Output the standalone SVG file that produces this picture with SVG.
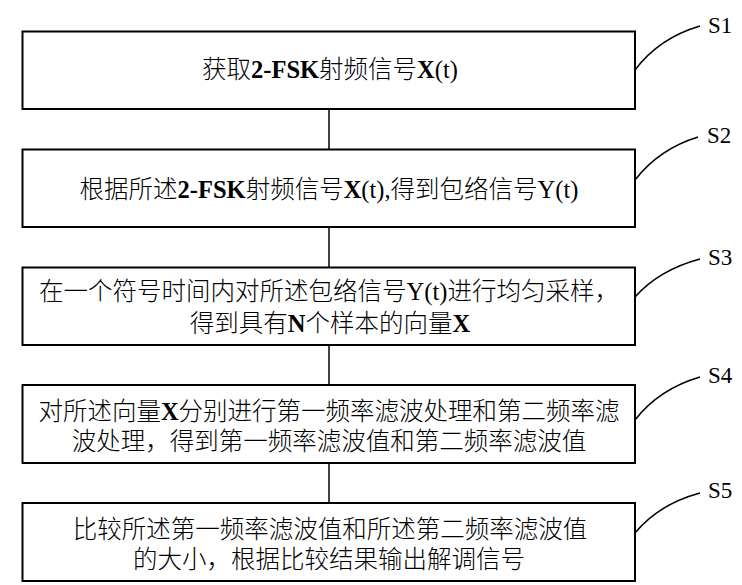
<svg xmlns="http://www.w3.org/2000/svg" width="742" height="585" viewBox="0 0 742 585">
<style>
  .box { fill: #ffffff; stroke: #000000; stroke-width: 2; }
  .conn { fill: none; stroke: #000000; stroke-width: 1.5; }
  .leader { fill: none; stroke: #000000; stroke-width: 1.5; }
  .t { font-family: "Liberation Serif", "Noto Sans CJK SC", serif; font-size: 24.5px; font-weight: 300; fill: #000000; text-anchor: middle; }
  .b { font-weight: bold; }
  .r { font-family: "Liberation Serif", serif; font-weight: normal; }
  .lbl { font-family: "Liberation Serif", serif; font-size: 23px; fill: #000000; }
</style>
<rect width="742" height="585" fill="#ffffff"/>
<g id="connectors">
  <line class="conn" x1="329" y1="109" x2="329" y2="149.5"/>
  <line class="conn" x1="329" y1="227" x2="329" y2="267.5"/>
  <line class="conn" x1="329" y1="345" x2="329" y2="385"/>
  <line class="conn" x1="329" y1="463" x2="329" y2="503"/>
  <path class="leader" d="M635,70 Q659,38 700,26"/>
  <path class="leader" d="M635,180 Q659,149 698,137"/>
  <path class="leader" d="M635,297 Q659,270 700,259"/>
  <path class="leader" d="M635,420 Q659,389 700,377"/>
  <path class="leader" d="M635,533 Q659,504 700,493"/>
</g>
<g id="S1">
  <rect class="box" x="22.5" y="31.5" width="612.5" height="77.5"/>
  <text class="t" x="330" y="78">获取<tspan class="b">2-FSK</tspan>射频信号<tspan class="b">X</tspan><tspan class="r">(t)</tspan></text>
  <text class="lbl" x="708" y="33">S1</text>
</g>
<g id="S2">
  <rect class="box" x="22.5" y="149.5" width="612.5" height="77.5"/>
  <text class="t" x="329" y="198">根据所述<tspan class="b">2-FSK</tspan>射频信号<tspan class="b">X</tspan><tspan class="r">(t),</tspan>得到包络信号<tspan class="r">Y(t)</tspan></text>
  <text class="lbl" x="707" y="143">S2</text>
</g>
<g id="S3">
  <rect class="box" x="22.5" y="267.5" width="612.5" height="77.5"/>
  <text class="t" x="329" y="300">在一个符号时间内对所述包络信号<tspan class="r">Y(t)</tspan>进行均匀采样，</text>
  <text class="t" x="330" y="332">得到具有<tspan class="b">N</tspan>个样本的向量<tspan class="b">X</tspan></text>
  <text class="lbl" x="708" y="265">S3</text>
</g>
<g id="S4">
  <rect class="box" x="22.5" y="385" width="612.5" height="78"/>
  <text class="t" x="329" y="420">对所述向量<tspan class="b">X</tspan>分别进行第一频率滤波处理和第二频率滤</text>
  <text class="t" x="329" y="450">波处理，得到第一频率滤波值和第二频率滤波值</text>
  <text class="lbl" x="708" y="383">S4</text>
</g>
<g id="S5">
  <rect class="box" x="22.5" y="503" width="612.5" height="78"/>
  <text class="t" x="330" y="538">比较所述第一频率滤波值和所述第二频率滤波值</text>
  <text class="t" x="329" y="568">的大小，根据比较结果输出解调信号</text>
  <text class="lbl" x="708" y="498">S5</text>
</g>
</svg>
